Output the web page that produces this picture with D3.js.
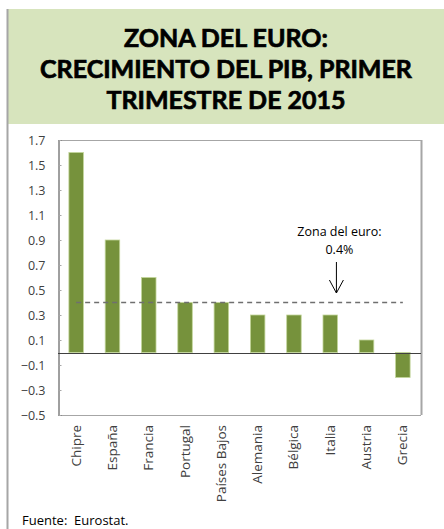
<!DOCTYPE html>
<html>
<head>
<meta charset="utf-8">
<script src="https://cdn.jsdelivr.net/npm/d3@7/dist/d3.min.js"></script>
<style>
    body { margin: 0; background: #fff; }
    text { font-family: 'Open Sans', sans-serif; }
</style>
</head>
<body>
<script>
'use strict';

var titleLines = ['ZONA DEL EURO:', 'CRECIMIENTO DEL PIB, PRIMER', 'TRIMESTRE DE 2015'];
var countries = ['Chipre', 'España', 'Francia', 'Portugal', 'Países Bajos',
    'Alemania', 'Bélgica', 'Italia', 'Austria', 'Grecia'];
var growth = [1.6, 0.9, 0.6, 0.4, 0.4, 0.3, 0.3, 0.3, 0.1, -0.2];
var euroAverage = 0.4;
var yTicks = [-0.5, -0.3, -0.1, 0.1, 0.3, 0.5, 0.7, 0.9, 1.1, 1.3, 1.5, 1.7];
var source = 'Fuente:  Eurostat.';

var width = 444;
var height = 529;
var plot = { left: 58, right: 421, top: 140, bottom: 415 };

var svg = d3.select('body').append('svg')
    .attr('width', width)
    .attr('height', height);

// title box
svg.append('rect')
    .attr('x', 7).attr('y', 9)
    .attr('width', width - 7).attr('height', 115)
    .attr('fill', '#d7e4bd');

svg.append('line')
    .attr('x1', 7.5).attr('x2', 7.5)
    .attr('y1', 9).attr('y2', height)
    .attr('stroke', '#a6a6a6')
    .attr('stroke-width', 2);

svg.append('g')
    .selectAll('text')
    .data(titleLines)
    .enter().append('text')
    .attr('x', 226)
    .attr('y', function(d, i) { return 47 + i * 31; })
    .attr('text-anchor', 'middle')
    .style('font-family', 'Lato, sans-serif')
    .style('font-weight', 'bold')
    .style('font-size', '25px')
    .attr('fill', '#000')
    .attr('stroke', '#000')
    .attr('stroke-width', 0.7)
    .text(function(d) { return d; });

var x = d3.scaleBand()
    .domain(countries)
    .range([plot.left, plot.right]);

var y = d3.scaleLinear()
    .domain([-0.5, 1.7])
    .range([plot.bottom, plot.top]);

// frame
svg.append('line')
    .attr('x1', plot.left).attr('x2', plot.right)
    .attr('y1', plot.top + 0.5).attr('y2', plot.top + 0.5)
    .attr('stroke', '#a6a6a6');
svg.append('line')
    .attr('x1', plot.right + 0.5).attr('x2', plot.right + 0.5)
    .attr('y1', plot.top).attr('y2', plot.bottom)
    .attr('stroke', '#a6a6a6')
    .attr('stroke-width', 2);
svg.append('line')
    .attr('x1', plot.left).attr('x2', plot.right)
    .attr('y1', plot.bottom + 0.5).attr('y2', plot.bottom + 0.5)
    .attr('stroke', '#a6a6a6');

// y axis
var yAxis = svg.append('g')
    .attr('transform', 'translate(' + (plot.left + 0.5) + ',0)')
    .call(d3.axisRight(y)
        .tickValues(yTicks)
        .tickSize(3)
        .tickFormat(d3.format('.1f')));
yAxis.select('.domain').attr('stroke', '#404040');
yAxis.selectAll('.tick line').attr('stroke', '#a6a6a6');
yAxis.selectAll('.tick text')
    .attr('x', -13)
    .attr('text-anchor', 'end')
    .style('font-size', '12.5px')
    .attr('fill', '#404040');

// bars
svg.append('g')
    .selectAll('rect')
    .data(growth)
    .enter().append('rect')
    .attr('x', function(d, i) { return x(countries[i]) + x.bandwidth() * 0.3; })
    .attr('width', x.bandwidth() * 0.4)
    .attr('y', function(d) { return y(Math.max(d, 0)); })
    .attr('height', function(d) { return Math.abs(y(d) - y(0)); })
    .attr('fill', '#76923c')
    .attr('stroke', '#c3d69b')
    .attr('stroke-width', 0.8);

// zero line
svg.append('line')
    .attr('x1', plot.left).attr('x2', plot.right)
    .attr('y1', Math.round(y(0)) + 0.5).attr('y2', Math.round(y(0)) + 0.5)
    .attr('stroke', '#404040');

// euro area average
var firstX = x(countries[0]) + x.bandwidth() / 2;
var lastX = x(countries[countries.length - 1]) + x.bandwidth() / 2;
svg.append('line')
    .attr('x1', firstX).attr('x2', lastX)
    .attr('y1', y(euroAverage)).attr('y2', y(euroAverage))
    .attr('stroke', '#6f6f6f')
    .attr('stroke-width', 1.5)
    .attr('stroke-dasharray', '5,4');

// annotation
var ax = x('Italia') + x.bandwidth() * 0.67;
var note = svg.append('g').attr('fill', '#000');
note.append('text')
    .attr('x', ax + 3).attr('y', 236)
    .attr('text-anchor', 'middle')
    .style('font-size', '12.5px')
    .text('Zona del euro:');
note.append('text')
    .attr('x', ax + 3).attr('y', 254)
    .attr('text-anchor', 'middle')
    .style('font-size', '12.5px')
    .text(d3.format('.1f')(euroAverage) + '%');
svg.append('path')
    .attr('d', 'M' + ax + ',262 L' + ax + ',293 M' + (ax - 7) + ',280 L' + ax + ',293 L' + (ax + 7) + ',280')
    .attr('fill', 'none')
    .attr('stroke', '#000')
    .attr('stroke-width', 1);

// category labels
svg.append('g')
    .selectAll('text')
    .data(countries)
    .enter().append('text')
    .attr('transform', function(d) {
        return 'translate(' + (x(d) + x.bandwidth() / 2 + 4.5) + ',' + (plot.bottom + 10) + ') rotate(-90)';
    })
    .attr('text-anchor', 'end')
    .style('font-size', '13.5px')
    .attr('fill', '#404040')
    .text(function(d) { return d; });

// source
svg.append('text')
    .attr('x', 22).attr('y', 525)
    .style('font-size', '13px')
    .style('white-space', 'pre')
    .attr('fill', '#000')
    .text(source);
</script>
</body>
</html>
